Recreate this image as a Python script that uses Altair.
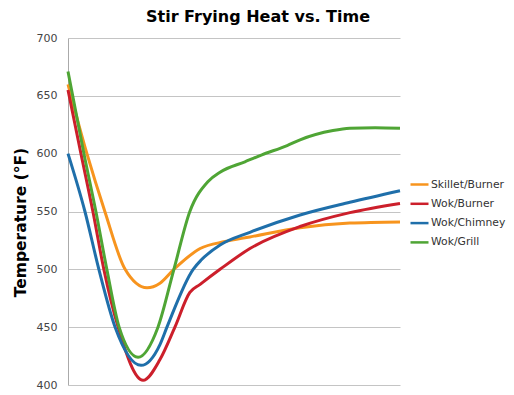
import altair as alt
import pandas as pd

series = ["Skillet/Burner", "Wok/Burner", "Wok/Chimney", "Wok/Grill"]
colors = ["#F7941E", "#CC1F2B", "#1F6FAA", "#4FA535"]

skillet_t = [0, 0.57, 1.11, 1.72, 2.38, 2.77, 3.19, 3.98, 4.73, 5.48, 6.99, 8.49, 10]
skillet_v = [660, 600, 550, 500, 484, 488, 500, 518, 524, 528, 536, 540, 541]

burner_t = [0, 0.39, 0.75, 1.08, 1.51, 2.26, 2.77, 3.22, 3.67, 3.98, 4.58, 5.48, 6.99, 8.49, 10]
burner_v = [655, 600, 550, 500, 450, 404, 422, 450, 480, 487, 500, 518, 537, 549, 557]

chimney_t = [0, 0.51, 0.93, 1.42, 2.20, 2.77, 2.98, 3.77, 4.01, 4.58, 5.48, 6.99, 8.49, 10]
chimney_v = [600, 550, 500, 450, 417, 435, 450, 500, 508, 521, 532, 547, 558, 568]

grill_t = [0, 0.48, 0.84, 1.17, 1.54, 2.11, 2.71, 3.19, 3.67, 4.22, 4.58, 5.33, 5.84, 6.60, 6.99, 7.98, 8.49, 9.25, 10]
grill_v = [671, 600, 550, 500, 450, 424, 450, 500, 550, 576, 584, 593, 599, 607, 612, 620, 622, 622.5, 622]

y_ticks = [400, 450, 500, 550, 600, 650, 700]

rows = []
for name, ts, vs in [
    (series[0], skillet_t, skillet_v),
    (series[1], burner_t, burner_v),
    (series[2], chimney_t, chimney_v),
    (series[3], grill_t, grill_v),
]:
    for t, v in zip(ts, vs):
        rows.append({"series": name, "t": t, "v": v})
df = pd.DataFrame(rows)

chart = alt.Chart(df).mark_line(strokeWidth=3, interpolate="monotone").encode(
    x=alt.X("t:Q", scale=alt.Scale(domain=[0, 10], nice=False, zero=False), axis=None),
    y=alt.Y(
        "v:Q",
        scale=alt.Scale(domain=[400, 700], nice=False, zero=False),
        axis=alt.Axis(
            values=y_ticks,
            title="Temperature (°F)",
            titleFont="DejaVu Sans",
            titleFontSize=15.5,
            titleFontWeight="bold",
            titleColor="black",
            titleX=-48,
            titleY=184,
            titleAngle=270,
            titleAlign="center",
            titleBaseline="middle",
            labelFont="DejaVu Sans",
            labelFontSize=11,
            labelColor="#444444",
            labelPadding=11,
            ticks=False,
            domainColor="#AAAAAA",
            gridColor="#C4C4C4",
            gridWidth=1,
        ),
    ),
    color=alt.Color(
        "series:N",
        scale=alt.Scale(domain=series, range=colors),
        legend=alt.Legend(
            title=None,
            orient="none",
            legendX=341,
            legendY=136,
            symbolType="stroke",
            symbolSize=324,
            symbolStrokeWidth=2.5,
            labelFont="DejaVu Sans",
            labelFontSize=10.8,
            labelColor="#333333",
            labelOffset=1,
            rowPadding=3.3,
            padding=0,
        ),
    ),
).properties(
    width=332,
    height=347,
    autosize="none",
    padding={"left": 60, "top": 30, "right": 106, "bottom": 8},
    title=alt.TitleParams(
        "Stir Frying Heat vs. Time",
        font="DejaVu Sans",
        fontSize=16,
        fontWeight="bold",
        color="black",
        anchor="middle",
        offset=7,
        dx=24,
    ),
).configure_view(stroke=None)

chart.save("out.html", embed_options={"renderer": "svg", "actions": False})
